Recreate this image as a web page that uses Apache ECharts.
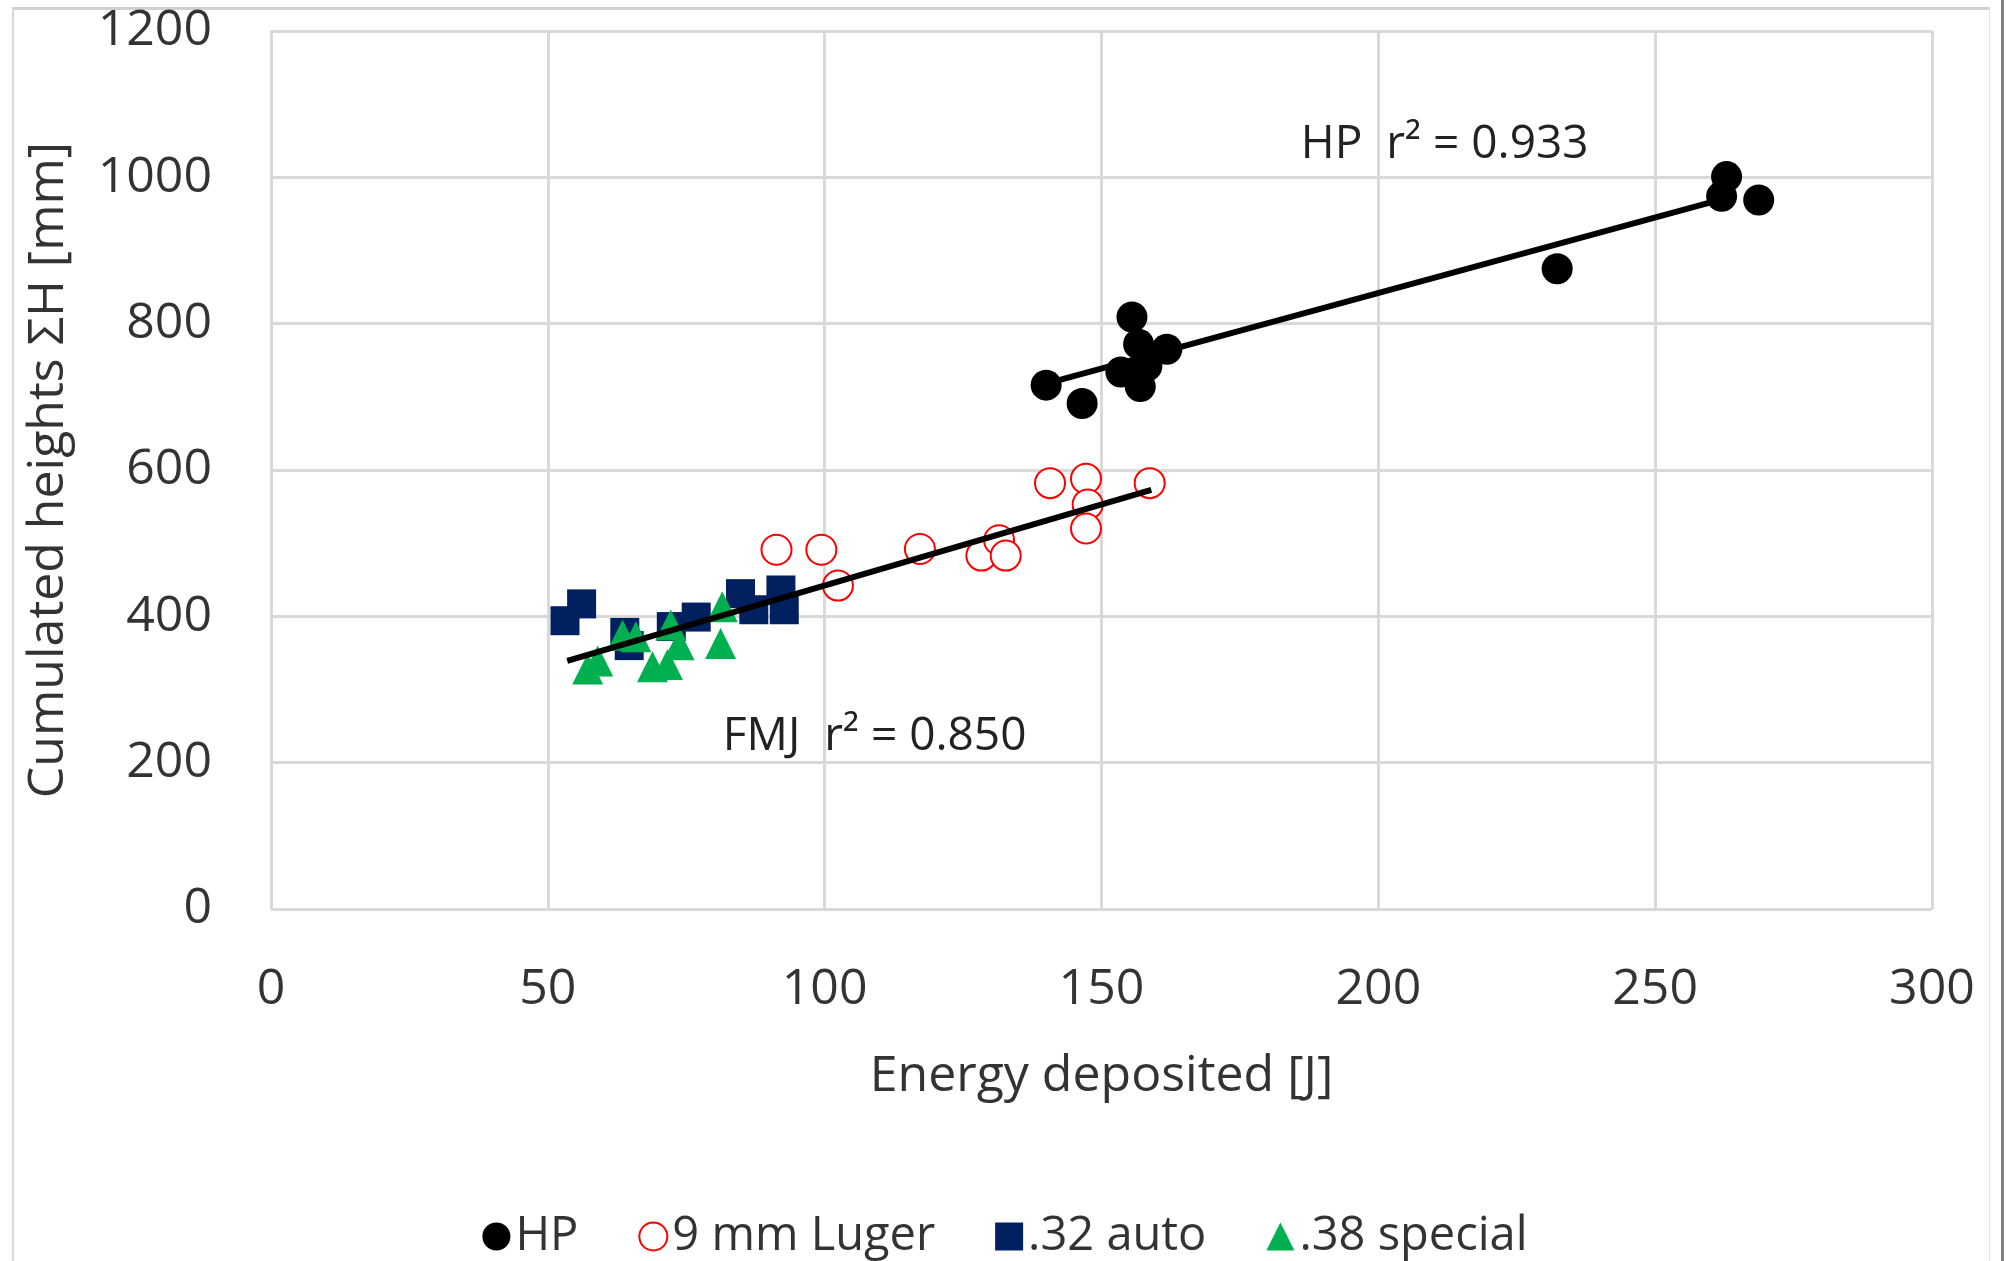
<!DOCTYPE html>
<html>
<head>
<meta charset="utf-8">
<script src="https://cdn.jsdelivr.net/npm/echarts@6/dist/echarts.min.js"></script>
<style>
  html, body { margin: 0; padding: 0; background: #fff; }
  #chart { width: 2010px; height: 1261px; }
</style>
</head>
<body>
<div id="chart"></div>
<script>
// energy deposited [J], cumulated heights [mm]
var hp = [[140.0, 716], [146.5, 691], [155.5, 809], [156.7, 772], [161.8, 765], [153.5, 734],
  [158.2, 742], [157.0, 714], [232.3, 875], [262.9, 1001], [262.0, 974], [268.7, 969]];
var luger9 = [[91.3, 491], [99.4, 491], [102.4, 442], [117.2, 492], [128.3, 483], [131.5, 504],
  [132.7, 483], [140.7, 582], [147.2, 588], [147.5, 553], [147.2, 520], [158.7, 582]];
var auto32 = [[53.1, 394], [56.1, 417], [63.9, 378], [64.7, 360], [72.3, 386], [76.8, 399],
  [84.8, 431], [87.2, 409], [92.1, 436], [92.7, 409]];
var special38 = [[57.2, 328], [59.0, 339], [63.5, 374], [65.9, 372], [68.9, 331], [71.6, 334],
  [72.2, 388], [73.7, 361], [81.2, 363], [81.5, 413]];

var hpFit = [[141, 720], [262, 970]];
var fmjFit = [[53.5, 339], [159, 573]];

var notes = [
  { text: 'HP  r\u00b2 = 0.933', at: [186, 1044] },
  { text: 'FMJ  r\u00b2 = 0.850', at: [81.6, 235] }
];

var xTicks = { min: 0, max: 300, step: 50 };
var yTicks = { min: 0, max: 1200, step: 200 };

var FONT = 'Open Sans';
var TXT = '#333';

function scatter(name, data, symbol, size, style) {
  style.opacity = 1;
  return {
    name: name,
    type: 'scatter',
    data: data,
    symbol: symbol,
    symbolSize: size,
    itemStyle: style,
    z: 3
  };
}

function fitLine(data) {
  return {
    type: 'line',
    data: data,
    symbol: 'none',
    lineStyle: { color: '#000', width: 6 },
    silent: true,
    z: 4
  };
}

var myChart = echarts.init(document.getElementById('chart'));

var option = {
  backgroundColor: '#fff',
  animation: false,
  grid: { left: 271, right: 78, top: 31, bottom: 352 },
  xAxis: {
    type: 'value',
    min: xTicks.min, max: xTicks.max, interval: xTicks.step,
    name: 'Energy deposited [J]',
    nameLocation: 'middle',
    nameGap: 143,
    nameTextStyle: { fontFamily: FONT, fontSize: 50, color: TXT },
    axisLine: { show: false },
    axisTick: { show: false },
    axisLabel: { margin: 56, fontFamily: FONT, fontSize: 50, color: TXT },
    splitLine: { lineStyle: { color: '#d9d9d9', width: 3 } }
  },
  yAxis: {
    type: 'value',
    min: yTicks.min, max: yTicks.max, interval: yTicks.step,
    name: 'Cumulated heights \u03a3H [mm]',
    nameLocation: 'middle',
    nameGap: 197,
    nameTextStyle: { fontFamily: FONT, fontSize: 50, color: TXT },
    axisLine: { show: false },
    axisTick: { show: false },
    axisLabel: {
      margin: 59, fontFamily: FONT, fontSize: 50, color: TXT,
      formatter: function(v) { return String(v); }
    },
    splitLine: { lineStyle: { color: '#d9d9d9', width: 3 } }
  },
  legend: {
    data: ['HP', '9 mm Luger', '.32 auto', '.38 special'],
    bottom: -4,
    left: 'center',
    itemWidth: 28,
    itemHeight: 28,
    itemGap: 60,
    textStyle: { fontFamily: FONT, fontSize: 47, color: TXT }
  },
  series: [
    scatter('HP', hp, 'circle', 31, { color: '#000' }),
    scatter('9 mm Luger', luger9, 'emptyCircle', 30, { color: '#ff0000', borderColor: '#ff0000', borderWidth: 3.5 }),
    scatter('.32 auto', auto32, 'rect', 29, { color: '#002060' }),
    scatter('.38 special', special38, 'triangle', 31, { color: '#00b050' }),
    fitLine(hpFit),
    fitLine(fmjFit),
    {
      type: 'scatter',
      data: notes.map(function(n) { return { value: n.at, name: n.text }; }),
      symbolSize: 0,
      silent: true,
      itemStyle: { opacity: 1 },
      label: {
        show: true,
        position: 'right',
        distance: 0,
        formatter: '{b}',
        fontFamily: FONT,
        fontSize: 46,
        color: '#222'
      }
    }
  ],
  graphic: [
    { type: 'line', shape: { x1: 13, y1: 8.5, x2: 1990, y2: 8.5 }, style: { stroke: '#d0d0d0', lineWidth: 3 } },
    { type: 'line', shape: { x1: 13, y1: 7, x2: 13, y2: 1261 }, style: { stroke: '#d8d8d8', lineWidth: 2 } },
    { type: 'line', shape: { x1: 1989.5, y1: 7, x2: 1989.5, y2: 1261 }, style: { stroke: '#e2e2e2', lineWidth: 1 } },
    { type: 'line', shape: { x1: 2002.5, y1: 0, x2: 2002.5, y2: 1261 }, style: { stroke: '#808080', lineWidth: 3 } }
  ]
};

myChart.setOption(option, true);
</script>
</body>
</html>
